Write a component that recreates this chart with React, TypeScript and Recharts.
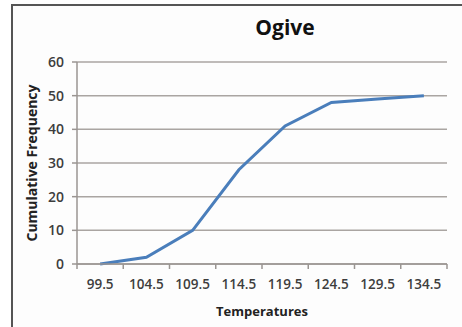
import React from 'react';
import { LineChart, Line, XAxis, YAxis, CartesianGrid } from 'recharts';

const temperatures = ['99.5', '104.5', '109.5', '114.5', '119.5', '124.5', '129.5', '134.5'];
const cumulativeFrequency = [0, 2, 10, 28, 41, 48, 49, 50];
const yTicks = [0, 10, 20, 30, 40, 50, 60];

const data = temperatures.map((t, i) => ({ temp: t, freq: cumulativeFrequency[i] }));

const FONT = '"Open Sans", "Liberation Sans", sans-serif';
const AXIS_GRAY = '#9a9592';

// Excel style category axis: labels in the middle, tick marks between categories
const TempTick = (props: any) => {
  const { x, y, payload, index } = props;
  const half = payload && payload.offset ? payload.offset : 23.1;
  const last = index === temperatures.length - 1;
  return (
    <g>
      <line x1={x - half} y1={y} x2={x - half} y2={y + 5} stroke={AXIS_GRAY} strokeWidth={1.5} />
      {last && <line x1={x + half} y1={y} x2={x + half} y2={y + 5} stroke={AXIS_GRAY} strokeWidth={1.5} />}
      <text x={x} y={y + 25} textAnchor="middle" fill="#3d3d3d" fontSize={13.5} fontFamily={FONT} fontWeight={600}>
        {payload.value}
      </text>
    </g>
  );
};

export default function App() {
  return (
    <div style={{ position: 'absolute', left: 0, top: 0, width: 462, height: 327, overflow: 'hidden', background: '#fff' }}>
      <div
        style={{
          position: 'absolute',
          left: 11,
          top: 4,
          width: 480,
          height: 360,
          border: '2px solid #555',
          background: '#fdfdfd',
        }}
      />
      <div
        style={{
          position: 'absolute',
          left: 185,
          top: 10,
          width: 200,
          textAlign: 'center',
          fontFamily: FONT,
          fontWeight: 700,
          fontSize: 21,
          color: '#111',
          lineHeight: '34px',
        }}
      >
        Ogive
      </div>
      <div style={{ position: 'absolute', left: 0, top: 0 }}>
        <LineChart width={462} height={327} data={data} margin={{ top: 62, right: 15, bottom: 0, left: 0 }}>
          <CartesianGrid vertical={false} stroke="#aaa5a2" strokeWidth={1.5} />
          <XAxis
            dataKey="temp"
            scale="band"
            height={63}
            tickSize={0}
            tickMargin={0}
            tickLine={false}
            stroke={AXIS_GRAY}
            strokeWidth={1.5}
            interval={0}
            tick={<TempTick />}
            label={{
              value: 'Temperatures',
              position: 'insideBottom',
              offset: 11,
              fill: '#222',
              fontSize: 13,
              fontWeight: 700,
              fontFamily: FONT,
            }}
          />
          <YAxis
            width={77}
            domain={[0, 60]}
            ticks={yTicks}
            interval={0}
            tickSize={5}
            tickMargin={8}
            stroke={AXIS_GRAY}
            strokeWidth={1.5}
            tick={{ fill: '#3d3d3d', fontSize: 14, fontFamily: FONT, fontWeight: 600 }}
            label={{
              value: 'Cumulative Frequency',
              angle: -90,
              position: 'center',
              dx: -6,
              fill: '#222',
              fontSize: 14,
              fontWeight: 700,
              fontFamily: FONT,
            }}
          />
          <Line
            type="linear"
            dataKey="freq"
            stroke="#4a7ebb"
            strokeWidth={3}
            dot={false}
            isAnimationActive={false}
          />
        </LineChart>
      </div>
    </div>
  );
}
